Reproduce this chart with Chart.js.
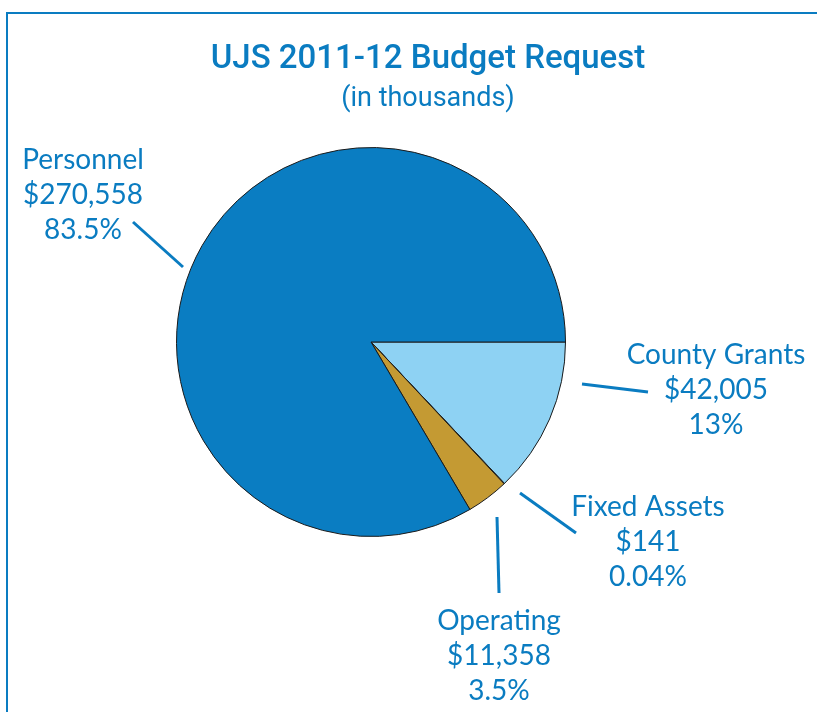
<!DOCTYPE html>
<html>
<head>
<meta charset="utf-8">
<script src="https://cdn.jsdelivr.net/npm/chart.js@4"></script>
<style>
    html, body { margin: 0; padding: 0; background: #fff; overflow: hidden; }
    #wrap { position: relative; width: 817px; height: 712px; }
    #frame {
        position: absolute; left: 6px; top: 12px; width: 900px; height: 800px;
        border-left: 2px solid #0a7cc1; border-top: 2px solid #0a7cc1;
    }
    canvas { position: absolute; left: 0; top: 0; }
</style>
</head>
<body>
<div id="wrap">
    <div id="frame"></div>
    <canvas id="budgetPie" width="817" height="712"></canvas>
</div>
<script>
const categories = ["County Grants", "Fixed Assets", "Operating", "Personnel"];
const amounts = [42005, 141, 11358, 270558];
const percentLabels = ["13%", "0.04%", "3.5%", "83.5%"];
const sliceColors = ["#8ed2f3", "#8ed2f3", "#c49a33", "#0a7dc2"];

const titleText = "UJS 2011-12 Budget Request";
const subtitleText = "(in thousands)";
const textBlue = "#0a7cc1";

// callout positions, relative to the pie centre
const callouts = [
    { line: [[211, 42], [277, 50]], text: [345, 13] },
    { line: [[149, 151], [205, 191]], text: [277, 165] },
    { line: [[126, 175], [128, 251]], text: [128, 279] },
    { line: [[-188, -75], [-238, -120]], text: [-288, -182] },
];

const labelPlugin = {
    id: "labels",
    afterDraw(chart) {
        const c = chart.ctx;
        const arc = chart.getDatasetMeta(0).data[0];
        const cx = arc.x, cy = arc.y;
        c.save();

        // title
        c.fillStyle = textBlue;
        c.textAlign = "center";
        c.textBaseline = "middle";
        c.font = "500 33px Roboto, 'Open Sans', sans-serif";
        c.fillText(titleText, 428, 60);
        c.font = "400 27px Roboto, 'Noto Sans', sans-serif";
        c.fillText(subtitleText, 428, 99);

        // callouts
        c.strokeStyle = textBlue;
        c.lineWidth = 3;
        c.font = "400 28px 'Lato', 'Noto Sans', sans-serif";
        callouts.forEach((co, i) => {
            c.beginPath();
            c.moveTo(cx + co.line[0][0], cy + co.line[0][1]);
            c.lineTo(cx + co.line[1][0], cy + co.line[1][1]);
            c.stroke();
            const lines = [
                categories[i],
                "$" + amounts[i].toLocaleString("en-US"),
                percentLabels[i],
            ];
            lines.forEach((t, j) => {
                c.fillText(t, cx + co.text[0], cy + co.text[1] + j * 35);
            });
        });
        c.restore();
    },
};

const ctx = document.getElementById("budgetPie").getContext("2d");
new Chart(ctx, {
    type: "pie",
    data: {
        labels: categories,
        datasets: [
            {
                data: amounts,
                backgroundColor: sliceColors,
                borderColor: "#1a1a1a",
                borderWidth: 1,
            },
        ],
    },
    options: {
        responsive: false,
        animation: false,
        rotation: 90,
        layout: {
            padding: { left: 176, right: 251, top: 147, bottom: 175 },
        },
        plugins: {
            legend: { display: false },
            tooltip: { enabled: false },
        },
    },
    plugins: [labelPlugin],
});
</script>
</body>
</html>
